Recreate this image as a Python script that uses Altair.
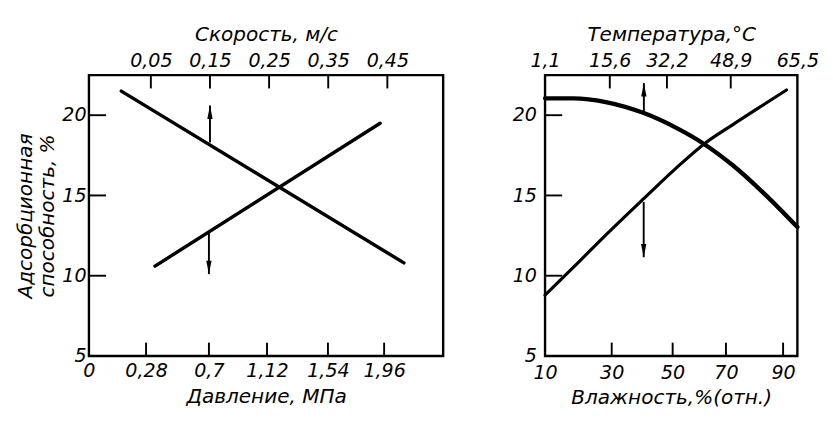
import altair as alt
import pandas as pd

# ---------------- data ----------------
# Left panel: absorption capacity (%) vs pressure (bottom axis) and velocity (top axis)
press_ticks = [0, 0.28, 0.7, 1.12, 1.54, 1.96]
press_domain = [0, 0.28, 0.7, 1.12, 1.54, 1.96, 2.38]
vel_ticks = [0.05, 0.15, 0.25, 0.35, 0.45]
vel_domain = [-0.0547, 0.5444]

press_line_x = [0.34, 1.93]
press_line_y = [10.6, 19.5]
vel_line_x = [0.0, 0.478]
vel_line_y = [21.5, 10.8]

# arrows (left panel): x, from, to
vel_arrow = [0.15, 18.3, 20.6]
press_arrow = [0.7, 12.8, 10.1]

# Right panel: absorption capacity vs humidity (bottom) and temperature (top)
hum_ticks = [10, 30, 50, 70, 90]
hum_domain = [10, 30, 50, 70, 90, 95]
temp_ticks = [1.1, 15.6, 32.2, 48.9, 65.5]

hum_x = [10, 18.7, 28.2, 40.5, 51.1, 61.8, 72.3, 83.4, 91.2]
hum_y = [8.79, 10.56, 12.53, 14.80, 16.67, 18.21, 19.40, 20.68, 21.57]
temp_x = [1.1, 7.5, 14.7, 25.5, 34.4, 41.9, 49.4, 57.3, 65.5]
temp_y = [21.05, 21.05, 20.82, 20.13, 19.24, 18.21, 16.88, 15.10, 13.03]

temp_arrow = [25.5, 20.2, 22.0]
hum_arrow = [40.5, 14.6, 11.15]

y_ticks = [5, 10, 15, 20]
y_inner_ticks = [10, 15, 20]
y_domain = [5, 22.5]

# ---------------- layout / style ----------------
W1, W2, H = 372, 265, 295
FONT = "DejaVu Sans"
TICK_LEN_X = 14
TICK_LEN_Y = 18
UP_HEAD = "M0,-1L0.4,1L-0.4,1Z"
DOWN_HEAD = "M0,1L0.4,-1L-0.4,-1Z"

y_scale = alt.Scale(domain=y_domain, nice=False, zero=False)


def y_axis(title, pad):
    return alt.Axis(values=y_ticks, labelPadding=pad, titlePadding=5,
                    title=title if title is not None else "")


x_axis_title = {
    "p": "Давление, МПа",
    "v": "Скорость, м/с",
    "h": "Влажность,%(отн.)",
    "t": "Температура,°С",
}


def panel_layers(x_name, x_scale, x_axis, line_x, line_y, sw, interp, ticks, tick_top,
                 arrow, head, y_title, ypad):
    X = lambda: alt.X(f"{x_name}:Q", scale=x_scale, axis=x_axis, title=x_axis_title[x_name])
    Y = lambda f: alt.Y(f"{f}:Q", scale=y_scale, axis=y_axis(y_title, ypad))
    line_df = pd.DataFrame({x_name: line_x, "a": line_y})
    line = alt.Chart(line_df).mark_line(color="black", strokeWidth=sw, strokeCap="round",
                                        interpolate=interp).encode(x=X(), y=Y("a"))
    tick_df = pd.DataFrame({x_name: ticks})
    if tick_top:
        tk = alt.Chart(tick_df).mark_rule(color="black", strokeWidth=2).encode(
            x=X(), y=alt.value(0), y2=alt.value(TICK_LEN_X))
    else:
        tk = alt.Chart(tick_df).mark_rule(color="black", strokeWidth=2).encode(
            x=X(), y=alt.value(H), y2=alt.value(H - TICK_LEN_X))
    arr_df = pd.DataFrame({x_name: [arrow[0]], "a": [arrow[1]], "b": [arrow[2]]})
    shaft = alt.Chart(arr_df).mark_rule(color="black", strokeWidth=2).encode(
        x=X(), y=Y("a"), y2="b:Q")
    up = arrow[2] > arrow[1]
    tip = alt.Chart(arr_df).mark_point(shape=head, filled=True, color="black", opacity=1,
                                       size=196, yOffset=7 if up else -7).encode(
        x=X(), y=Y("b"))
    return [line, tk, shaft, tip]


press_axis = alt.Axis(orient="bottom", values=press_ticks, labelPadding=6, titlePadding=6,
                      labelExpr="replace(format(datum.value, '~g'), '.', ',')")
vel_axis = alt.Axis(orient="top", values=vel_ticks, labelPadding=5, titlePadding=7,
                    labelExpr="replace(format(datum.value, '.2f'), '.', ',')")
hum_axis = alt.Axis(orient="bottom", values=hum_ticks, labelPadding=8, titlePadding=5,
                    labelExpr="format(datum.value, 'd')")
temp_axis = alt.Axis(orient="top", values=temp_ticks, labelPadding=5, titlePadding=7,
                     labelExpr="replace(format(datum.value, '.1f'), '.', ',')")

press_scale = alt.Scale(domain=press_domain, range=[0, 60, 126, 187, 251, 310, 372], nice=False, zero=False)
vel_scale = alt.Scale(domain=vel_domain, nice=False, zero=False)
hum_scale = alt.Scale(domain=hum_domain, range=[0, 70, 134, 190, 250, 265], nice=False, zero=False)
temp_scale = alt.Scale(domain=temp_ticks, range=[0, 68, 128, 195, 265], nice=False, zero=False)

ytick_df = pd.DataFrame({"a": y_inner_ticks})


def y_tick_layer(y_title, ypad):
    return alt.Chart(ytick_df).mark_rule(color="black", strokeWidth=2).encode(
        y=alt.Y("a:Q", scale=y_scale, axis=y_axis(y_title, ypad)),
        x=alt.value(0), x2=alt.value(TICK_LEN_Y))


left_title = ["Адсорбционная", "способность, %"]
left_p = alt.layer(*panel_layers("p", press_scale, press_axis, press_line_x, press_line_y, 3.6, "linear",
                                 press_ticks[1:], False, press_arrow, DOWN_HEAD, left_title, 3),
                   y_tick_layer(left_title, 3))
left_v = alt.layer(*panel_layers("v", vel_scale, vel_axis, vel_line_x, vel_line_y, 3.6, "linear",
                                 vel_ticks, True, vel_arrow, UP_HEAD, left_title, 3))
left = alt.layer(left_p, left_v).resolve_scale(x="independent").properties(width=W1, height=H)

right_h = alt.layer(*panel_layers("h", hum_scale, hum_axis, hum_x, hum_y, 3.3, "monotone",
                                  hum_ticks[1:], False, hum_arrow, DOWN_HEAD, None, 9),
                    y_tick_layer(None, 9))
right_t = alt.layer(*panel_layers("t", temp_scale, temp_axis, temp_x, temp_y, 4.5, "monotone",
                                  temp_ticks[1:-1], True, temp_arrow, UP_HEAD, None, 9))
right = alt.layer(right_h, right_t).resolve_scale(x="independent").properties(width=W2, height=H)

chart = alt.hconcat(left, right, spacing=69).properties(
    padding={"left": 6, "top": 5, "right": 5, "bottom": 5}, background="white"
).configure_view(stroke="black", strokeWidth=2.5).configure_axis(
    labelFont=FONT, titleFont=FONT, labelFontStyle="italic", titleFontStyle="italic",
    labelFontSize=20, titleFontSize=21, titleFontWeight="normal", labelColor="black",
    titleColor="black", domain=False, ticks=False, grid=False, labelFlush=False,
    labelOverlap=False,
)

chart.save("out.html", embed_options={"renderer": "svg", "actions": False})
